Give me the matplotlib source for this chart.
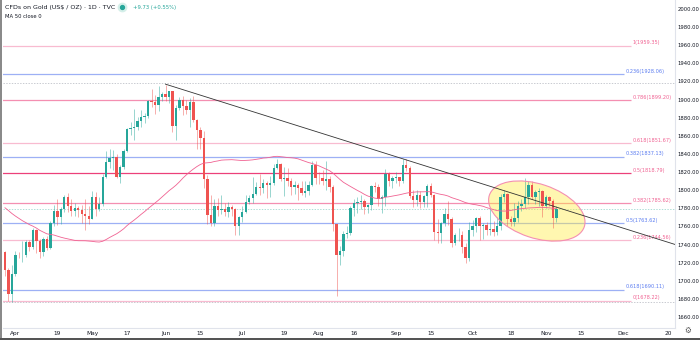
import numpy as np
import pandas as pd
import matplotlib.pyplot as plt
from matplotlib.lines import Line2D
from matplotlib.patches import Ellipse, Rectangle
from matplotlib.transforms import IdentityTransform

# Daily gold CFD candles, 29 Mar 2021 .. 4 Nov 2021 (one per weekday)
start_date = "2021-03-29"
opens = [
    1732, 1712, 1685, 1708, 1729, 1728, 1729, 1743, 1737, 1756,
    1744, 1732, 1746, 1736, 1764, 1777, 1770, 1779, 1793, 1783,
    1777, 1780, 1778, 1774, 1772, 1768, 1792, 1779, 1785, 1815,
    1831, 1836, 1837, 1815, 1826, 1843, 1867, 1869, 1870, 1876,
    1881, 1882, 1898, 1897, 1894, 1903, 1906, 1903, 1909, 1871,
    1891, 1899, 1893, 1888, 1897, 1877, 1866, 1858, 1812, 1773,
    1764, 1783, 1778, 1779, 1776, 1781, 1779, 1761, 1770, 1776,
    1787, 1791, 1796, 1803, 1802, 1808, 1806, 1808, 1824, 1829,
    1812, 1813, 1810, 1804, 1806, 1802, 1797, 1799, 1806, 1828,
    1814, 1813, 1810, 1812, 1804, 1763, 1729, 1733, 1752, 1753,
    1780, 1786, 1787, 1788, 1781, 1784, 1805, 1803, 1790, 1792,
    1818, 1810, 1814, 1815, 1810, 1828, 1824, 1794, 1789, 1795,
    1787, 1794, 1805, 1795, 1754, 1753, 1764, 1774, 1768, 1742,
    1750, 1751, 1737, 1725, 1756, 1761, 1769, 1761, 1762, 1756,
    1757, 1754, 1760, 1793, 1796, 1768, 1765, 1769, 1783, 1785,
    1792, 1806, 1793, 1798, 1799, 1783, 1793, 1788, 1769,
]
highs = [
    1733, 1714, 1717, 1733, 1732, 1744, 1745, 1745, 1758, 1757,
    1746, 1748, 1749, 1766, 1784, 1790, 1781, 1795, 1797, 1790,
    1786, 1782, 1784, 1790, 1782, 1799, 1798, 1792, 1818, 1843,
    1845, 1844, 1840, 1828, 1845, 1869, 1875, 1890, 1881, 1889,
    1885, 1900, 1912, 1905, 1915, 1908, 1916, 1909, 1910, 1894,
    1903, 1904, 1900, 1902, 1904, 1879, 1870, 1865, 1817, 1795,
    1790, 1791, 1795, 1786, 1787, 1784, 1780, 1771, 1783, 1795,
    1795, 1815, 1809, 1818, 1812, 1810, 1816, 1829, 1834, 1830,
    1826, 1825, 1813, 1810, 1808, 1810, 1810, 1810, 1832, 1832,
    1820, 1822, 1832, 1816, 1806, 1763, 1738, 1755, 1760, 1782,
    1790, 1793, 1795, 1790, 1785, 1806, 1809, 1807, 1795, 1823,
    1820, 1816, 1820, 1815, 1834, 1834, 1827, 1800, 1800, 1799,
    1795, 1807, 1808, 1796, 1768, 1765, 1780, 1788, 1770, 1753,
    1758, 1755, 1742, 1765, 1767, 1770, 1772, 1764, 1765, 1781,
    1766, 1770, 1796, 1800, 1797, 1772, 1786, 1788, 1790, 1814,
    1810, 1810, 1800, 1802, 1800, 1795, 1794, 1790, 1782,
]
lows = [
    1705, 1678, 1677, 1705, 1725, 1721, 1726, 1733, 1735, 1731,
    1725, 1727, 1734, 1735, 1760, 1762, 1763, 1776, 1776, 1771,
    1771, 1770, 1764, 1756, 1763, 1768, 1771, 1777, 1782, 1813,
    1825, 1822, 1813, 1808, 1823, 1842, 1861, 1855, 1866, 1870,
    1874, 1880, 1892, 1884, 1887, 1898, 1898, 1896, 1864, 1855,
    1888, 1883, 1884, 1870, 1875, 1845, 1845, 1802, 1763, 1761,
    1760, 1772, 1774, 1771, 1770, 1772, 1750, 1750, 1765, 1775,
    1785, 1786, 1795, 1795, 1797, 1791, 1793, 1806, 1823, 1810,
    1794, 1805, 1795, 1796, 1789, 1795, 1792, 1795, 1805, 1807,
    1807, 1806, 1800, 1798, 1755, 1683, 1717, 1727, 1747, 1750,
    1771, 1775, 1779, 1774, 1775, 1778, 1798, 1782, 1775, 1783,
    1805, 1802, 1808, 1805, 1808, 1821, 1791, 1781, 1783, 1780,
    1781, 1781, 1792, 1745, 1742, 1742, 1760, 1762, 1737, 1740,
    1744, 1731, 1720, 1722, 1749, 1754, 1745, 1746, 1750, 1750,
    1749, 1751, 1756, 1787, 1761, 1760, 1761, 1765, 1777, 1780,
    1785, 1790, 1785, 1783, 1770, 1780, 1782, 1758, 1765,
]
closes = [
    1712, 1685, 1708, 1729, 1728, 1729, 1743, 1737, 1756, 1744,
    1732, 1746, 1736, 1764, 1777, 1770, 1779, 1793, 1783, 1777,
    1780, 1778, 1774, 1772, 1768, 1792, 1779, 1785, 1815, 1831,
    1836, 1837, 1815, 1826, 1843, 1867, 1869, 1870, 1876, 1881,
    1882, 1898, 1897, 1894, 1903, 1906, 1903, 1909, 1871, 1891,
    1899, 1893, 1888, 1897, 1877, 1866, 1858, 1812, 1773, 1764,
    1783, 1778, 1779, 1776, 1781, 1779, 1761, 1770, 1776, 1787,
    1791, 1796, 1803, 1802, 1808, 1806, 1808, 1824, 1829, 1812,
    1813, 1810, 1804, 1806, 1802, 1797, 1799, 1806, 1828, 1814,
    1813, 1810, 1812, 1804, 1763, 1729, 1733, 1752, 1753, 1780,
    1786, 1787, 1788, 1781, 1784, 1805, 1803, 1790, 1792, 1818,
    1810, 1814, 1815, 1810, 1828, 1824, 1794, 1789, 1795, 1787,
    1794, 1805, 1795, 1754, 1753, 1764, 1774, 1768, 1742, 1750,
    1751, 1737, 1725, 1756, 1761, 1769, 1761, 1762, 1756, 1757,
    1754, 1760, 1793, 1796, 1768, 1765, 1769, 1783, 1785, 1792,
    1806, 1793, 1798, 1799, 1783, 1793, 1788, 1769, 1779.3,
]
# closes before the first candle, only used to seed the 50-day average
prior_closes = [
    1846, 1828, 1840, 1840, 1871, 1870, 1856, 1856, 1850, 1844,
    1843, 1848, 1860, 1838, 1834, 1794, 1813, 1832, 1838, 1842,
    1825, 1823, 1819, 1794, 1775, 1775, 1784, 1808, 1806, 1797,
    1770, 1734, 1723, 1737, 1712, 1697, 1700, 1683, 1716, 1726,
    1722, 1719, 1731, 1731, 1745, 1735, 1745, 1738, 1727, 1734,
    1725, 1732,
]

# fibonacci retracements
pink_ratios = [1, 0.786, 0.618, 0.5, 0.382, 0.236, 0]
pink_prices = [1959.35, 1899.20, 1851.67, 1818.79, 1785.62, 1744.56, 1678.22]
pink_colors = ["#f8bbd0", "#f48fb1", "#f8bbd0", "#ec407a", "#f48fb1", "#f8bbd0", "#f8bbd0"]
blue_ratios = [0.236, 0.382, 0.5, 0.618]
blue_prices = [1928.06, 1837.13, 1763.62, 1690.11]

# trend line from the June top
trend_dates = ["2021-06-01", "2021-10-25"]
trend_prices = [1917, 1791]

tick_dates = ["2021-04-01", "2021-04-19", "2021-05-03", "2021-05-17", "2021-06-01",
              "2021-06-15", "2021-07-01", "2021-07-19", "2021-08-02", "2021-08-16",
              "2021-09-01", "2021-09-15", "2021-10-01", "2021-10-18", "2021-11-01",
              "2021-11-15", "2021-12-01", "2021-12-20"]
tick_labels = ["Apr", "19", "May", "17", "Jun", "15", "Jul", "19", "Aug", "16",
               "Sep", "15", "Oct", "18", "Nov", "15", "Dec", "20"]

UP, DOWN = "#26a69a", "#ef5350"
TXT = "#131722"

calendar = pd.bdate_range(start_date, "2021-12-31")
pos = {d: i for i, d in enumerate(calendar)}

def idx(d):
    return pos[pd.Timestamp(d)]

o = np.array(opens, float)
h = np.array(highs, float)
l = np.array(lows, float)
c = np.array(closes, float)
x = np.arange(len(c))

ma = pd.Series(prior_closes + closes).rolling(50).mean().to_numpy()[len(prior_closes):]

fig = plt.figure(figsize=(7, 3.4), dpi=100)
ax = fig.add_axes([3 / 700, 12 / 340, 672 / 700, 328 / 340])
ax.set_xlim(-0.57, 192)
ax.set_ylim(1647.9, 2009.9)

# fib levels
pink_end, blue_end = 179.4, 177.4
for r, p, col in zip(pink_ratios, pink_prices, pink_colors):
    ax.hlines(p, -1, pink_end, color=col, lw=0.9, zorder=1)
    ax.text(pink_end + 0.5, p + 0.5, f"{r:g}({p:.2f})", color="#f06292",
            fontsize=3.6, va="bottom", ha="left")
for r, p in zip(blue_ratios, blue_prices):
    ax.hlines(p, -1, blue_end, color="#9db0f5", lw=0.9, zorder=1)
    ax.text(blue_end + 0.5, p + 0.5, f"{r:g}({p:.2f})", color="#5b7cf0",
            fontsize=3.6, va="bottom", ha="left")

# high / low / last price lines
ax.axhline(h.max() + 2, color="#b2b5be", lw=0.5, ls=(0, (2, 2)), zorder=1)
ax.axhline(l.min(), color="#b2b5be", lw=0.5, ls=(0, (2, 2)), zorder=1)
ax.axhline(c[-1], color="#8fd0c6", lw=0.5, ls=(0, (2, 2)), zorder=1)

# highlight of the recent range, drawn in pixels so it keeps its shape
fig.canvas.draw()
cx, cy = ax.transData.transform((152.4, 1777.0))
ax.add_artist(Ellipse((cx, cy), 100, 54, angle=-18.4, transform=IdentityTransform(),
                      facecolor="#ffeb3b", alpha=0.4, edgecolor="none", zorder=2))
ax.add_artist(Ellipse((cx, cy), 100, 54, angle=-18.4, transform=IdentityTransform(),
                      facecolor="none", edgecolor="#f48fb1", lw=0.8, zorder=6))

# candles
up = c >= o
cols = np.where(up, UP, DOWN)
ax.vlines(x, l, h, colors=cols, lw=0.6, alpha=0.55, zorder=3)
ax.bar(x, np.maximum(np.abs(c - o), 0.6), bottom=np.minimum(o, c), width=0.68,
       color=cols, linewidth=0, zorder=4)

ax.plot(x, ma, color="#f06292", lw=0.6, zorder=5)

# trend line extended to the right edge
tx = [idx(d) for d in trend_dates]
slope = (trend_prices[1] - trend_prices[0]) / (tx[1] - tx[0])
x_end = 192
ax.plot([tx[0], x_end], [trend_prices[0], trend_prices[0] + slope * (x_end - tx[0])],
        color="#333333", lw=0.6, zorder=6)

# axes
for s in ax.spines.values():
    s.set_visible(False)
for side in ("right", "bottom"):
    ax.spines[side].set_visible(True)
    ax.spines[side].set_color("#e0e3eb")
    ax.spines[side].set_linewidth(0.8)

ax.yaxis.tick_right()
ax.set_yticks(np.arange(1660, 2001, 20))
ax.set_yticklabels([f"{v:.2f}" for v in np.arange(1660, 2001, 20)])
ax.tick_params(axis="y", length=0, pad=2.0, labelsize=3.8, labelcolor=TXT)
ax.set_xticks([idx(d) for d in tick_dates])
ax.set_xticklabels(tick_labels)
ax.tick_params(axis="x", length=0, pad=2.5, labelsize=4.2, labelcolor=TXT)

# header
fig.text(5 / 700, 1 - 7 / 340, "CFDs on Gold (US$ / OZ) \u00b7 1D \u00b7 TVC",
         fontsize=4.5, color=TXT, va="center")
fig.add_artist(Line2D([122 / 700], [1 - 7 / 340], marker="o", markersize=6,
                      color="#d5efe9", transform=fig.transFigure))
fig.add_artist(Line2D([122 / 700], [1 - 7 / 340], marker="o", markersize=2.8,
                      color=UP, transform=fig.transFigure))
fig.text(133 / 700, 1 - 7 / 340, "+9.73 (+0.55%)", fontsize=3.8, color=UP, va="center")
fig.text(5 / 700, 1 - 17 / 340, "MA 50 close 0", fontsize=3.8, color=TXT, va="center")
fig.text(688 / 700, 1 - 330 / 340, "\u2699", fontsize=5.5, color="#555555",
         ha="center", va="center")

# frame
fig.add_artist(Rectangle((0, 0), 2 / 700, 1, transform=fig.transFigure,
                         color="#8a8a8a", lw=0))
fig.add_artist(Rectangle((0, 0), 1, 2 / 340, transform=fig.transFigure,
                         color="#555555", lw=0))

fig.savefig("out.png", dpi=100)
